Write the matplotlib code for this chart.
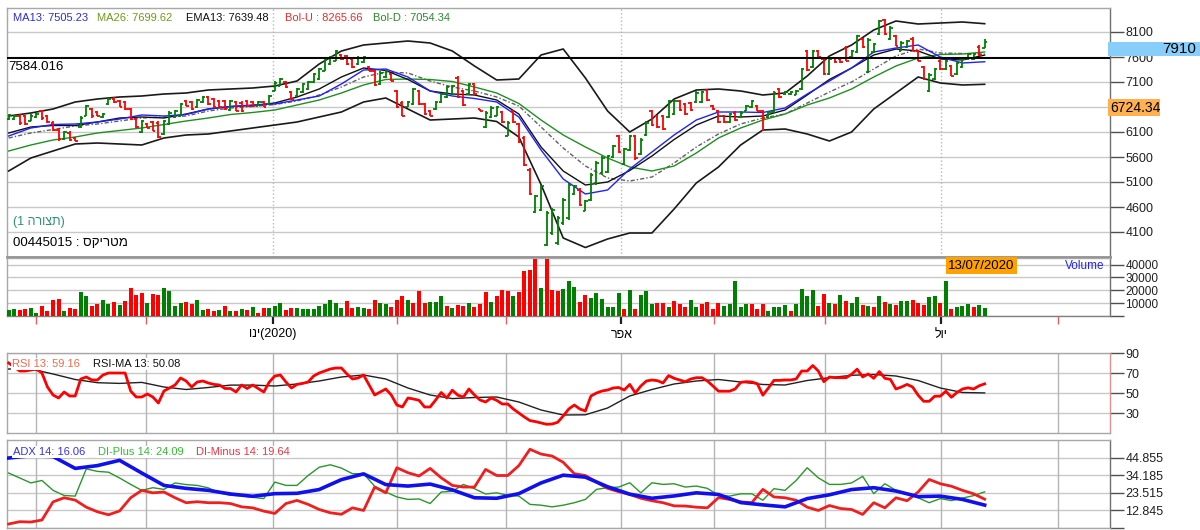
import matplotlib
matplotlib.use('Agg')
import matplotlib.pyplot as plt
from matplotlib.patches import Rectangle
import numpy as np

plt.rcParams['font.family'] = ['Liberation Sans', 'DejaVu Sans']


def heb(s):
    # matplotlib lays glyphs out left to right, so Hebrew runs are flipped for display
    return s[::-1]


# ---------------- price bars (bar 0 .. bar 176 = 13/07/2020) ----------------
open_ = [6370, 6370, 6430, 6420, 6330, 6400, 6520, 6430, 6290, 6150,
         5970, 6090, 5980, 6200, 6430, 6560, 6500, 6400, 6660, 6770,
         6730, 6700, 6560, 6360, 6100, 6270, 6300, 6290, 6070, 6270,
         6400, 6430, 6730, 6700, 6600, 6700, 6800, 6760, 6730, 6730,
         6540, 6700, 6690, 6730, 6710, 6630, 6700, 6660, 6930, 7030,
         7100, 6900, 6830, 6900, 6960, 7100, 7170, 7330, 7460, 7530,
         7650, 7630, 7560, 7460, 7500, 7400, 7330, 7070, 7200, 7260,
         6930, 6690, 6610, 6670, 6930, 6660, 6530, 6560, 6700, 6800,
         6870, 7190, 6930, 6870, 7060, 6560, 6200, 6400, 6430, 6500,
         6030, 6520, 6260, 5990, 5350, 4500, 4540, 3850, 4080, 3880,
         4280, 4380, 4870, 4950, 4530, 4740, 5080, 5280, 5300, 5600,
         6020, 5470, 5740, 6020, 5670, 6040, 6520, 6420, 6420, 6400,
         6470, 6720, 6660, 6680, 6700, 6700, 6940, 6630, 6520, 6430,
         6300, 6490, 6400, 6530, 6600, 6630, 6530, 6400, 6500, 6960,
         6860, 6860, 6850, 6960, 7720, 7400, 7730, 7570, 7270, 7580,
         7570, 7790, 7600, 7700, 7960, 7300, 7700, 8060, 8340, 7970,
         8030, 7730, 7800, 7970, 7730, 7400, 6930, 7170, 7530, 7370,
         7430, 7270, 7400, 7560, 7560, 7810, 7790]
high = [6460, 6447, 6460, 6447, 6460, 6480, 6547, 6447, 6313, 6180,
        6127, 6113, 5993, 6413, 6647, 6580, 6513, 6480, 6780, 6793,
        6747, 6713, 6580, 6380, 6347, 6280, 6313, 6313, 6347, 6513,
        6547, 6680, 6747, 6713, 6767, 6813, 6813, 6780, 6747, 6747,
        6747, 6713, 6713, 6747, 6727, 6713, 6713, 6847, 7113, 7180,
        7113, 6913, 6980, 7080, 7113, 7280, 7380, 7580, 7613, 7747,
        7660, 7647, 7580, 7613, 7613, 7413, 7347, 7313, 7347, 7280,
        6947, 6713, 6713, 6980, 6947, 6680, 6547, 6713, 6880, 7013,
        7047, 7213, 6947, 7080, 7080, 6567, 6513, 6613, 6613, 6513,
        6313, 6547, 6280, 6013, 5380, 4847, 5047, 4513, 4580, 4413,
        4780, 5080, 5047, 4980, 4747, 5280, 5513, 5613, 5647, 5847,
        6047, 5780, 6047, 6047, 5980, 6313, 6547, 6447, 6447, 6747,
        6747, 6747, 6680, 6700, 6913, 6927, 6967, 6647, 6547, 6447,
        6480, 6513, 6513, 6647, 6747, 6647, 6547, 6513, 6913, 6980,
        6927, 6927, 6947, 7380, 7747, 7747, 7747, 7593, 7580, 7593,
        7580, 7813, 7747, 8047, 7980, 7980, 7880, 8347, 8367, 8213,
        8047, 7913, 7947, 7993, 7747, 7413, 7280, 7380, 7547, 7547,
        7447, 7513, 7580, 7680, 7680, 7833, 7960]
low = [6347, 6347, 6247, 6247, 6313, 6380, 6347, 6280, 6113, 5927,
       5947, 5927, 5913, 6180, 6413, 6380, 6413, 6380, 6647, 6680,
       6593, 6547, 6347, 6180, 6080, 6180, 6113, 5980, 6047, 6247,
       6380, 6413, 6613, 6547, 6580, 6680, 6647, 6580, 6580, 6547,
       6513, 6513, 6500, 6613, 6613, 6613, 6593, 6647, 6913, 7013,
       6980, 6747, 6813, 6880, 6947, 7080, 7147, 7313, 7447, 7513,
       7547, 7447, 7380, 7447, 7480, 7313, 7013, 7047, 7180, 7113,
       6580, 6413, 6593, 6647, 6647, 6447, 6413, 6547, 6680, 6780,
       6847, 6780, 6613, 6847, 6847, 6513, 6180, 6380, 6413, 6280,
       6013, 6280, 5880, 5413, 4847, 4480, 4513, 3813, 4047, 3847,
       4247, 4347, 4847, 4613, 4513, 4713, 5047, 5247, 5280, 5580,
       5680, 5447, 5713, 5547, 5647, 6013, 6213, 6180, 6147, 6380,
       6447, 6513, 6447, 6513, 6680, 6680, 6713, 6547, 6280, 6280,
       6280, 6313, 6380, 6513, 6580, 6513, 6113, 6380, 6480, 6780,
       6847, 6847, 6833, 6947, 7313, 7380, 7580, 7247, 7247, 7480,
       7480, 7513, 7580, 7680, 7780, 7280, 7680, 8047, 8033, 7947,
       7813, 7713, 7780, 7713, 7513, 7147, 6900, 7147, 7347, 7347,
       7213, 7247, 7380, 7547, 7547, 7613, 7780]
close = [6440, 6430, 6280, 6270, 6430, 6460, 6380, 6300, 6140, 5960,
         6100, 5950, 5930, 6390, 6620, 6420, 6430, 6460, 6760, 6700,
         6610, 6570, 6370, 6200, 6320, 6190, 6130, 6000, 6320, 6490,
         6530, 6660, 6630, 6570, 6750, 6800, 6670, 6600, 6600, 6570,
         6730, 6530, 6520, 6630, 6630, 6700, 6610, 6830, 7090, 7160,
         7000, 6770, 6960, 7060, 7100, 7260, 7360, 7560, 7600, 7720,
         7560, 7470, 7400, 7590, 7600, 7330, 7040, 7290, 7330, 7130,
         6600, 6430, 6700, 6960, 6670, 6470, 6430, 6700, 6860, 7000,
         7030, 6800, 6640, 7060, 6870, 6520, 6490, 6590, 6600, 6300,
         6290, 6300, 5900, 5440, 4870, 4820, 5020, 4480, 4550, 4380,
         4750, 5050, 5020, 4640, 4720, 5250, 5480, 5590, 5620, 5820,
         5700, 5760, 6020, 5580, 5950, 6290, 6240, 6200, 6170, 6720,
         6720, 6540, 6470, 6540, 6890, 6900, 6740, 6570, 6300, 6300,
         6460, 6340, 6490, 6630, 6730, 6530, 6380, 6500, 6890, 6800,
         6910, 6910, 6930, 7360, 7340, 7720, 7600, 7270, 7560, 7500,
         7500, 7530, 7730, 8020, 7800, 7950, 7860, 8320, 8060, 8190,
         7830, 7890, 7930, 7730, 7530, 7170, 7250, 7360, 7370, 7530,
         7230, 7490, 7560, 7660, 7660, 7640, 7910]

volume = [4900, 5600, 4900, 5600, 6400, 2600, 7900, 4100, 12600, 13300,
          4100, 6400, 5600, 18700, 15600, 7900, 9500, 12600, 9500, 11000,
          8700, 11800, 21800, 16400, 17900, 10300, 17200, 16400, 21800, 19500,
          7900, 10300, 11000, 9500, 12600, 4900, 5600, 4100, 4900, 7900,
          4100, 4100, 5600, 4900, 7200, 2600, 6400, 6400, 7900, 10300,
          4900, 6400, 6400, 5600, 5600, 5600, 7900, 9500, 12600, 10300,
          6400, 11800, 6400, 7200, 6400, 5600, 12600, 10300, 9500, 7200,
          12600, 15600, 12600, 10300, 19500, 10300, 11000, 11000, 15600, 7900,
          6400, 8700, 7900, 10300, 7200, 9500, 18700, 11000, 15600, 20300,
          19500, 15600, 18700, 34900, 35600, 44600, 21800, 44100, 20300, 19500,
          21000, 27200, 22600, 11000, 16400, 14100, 17900, 13600, 6700, 6700,
          17900, 5600, 20500, 5600, 16400, 19500, 9700, 10300, 10300, 6700,
          11800, 9500, 7200, 12600, 6700, 9700, 11000, 5600, 10300, 7900,
          9700, 27200, 7200, 9500, 9500, 5600, 9500, 4100, 6700, 6700,
          8700, 4100, 9500, 21000, 15600, 20300, 7900, 17200, 10300, 9500,
          16400, 11800, 10300, 14900, 8700, 7900, 7200, 15600, 11000, 9500,
          8700, 11800, 11800, 12600, 10300, 8700, 14900, 15600, 10300, 27200,
          5600, 7200, 7900, 9500, 7200, 8700, 6400]
# g = up day, r = down day, as coloured in the volume pane
vol_dir = ("ggrrggrrrr" "grrggrrggr" "grrrrgrrgg" "ggrrggrrgr" "grgrgrrggg"
           "rrgggggggg" "grrggrrggr" "rrgrrrgggr" "grrgrrrgrr" "rgrrrrgrrr"
           "gggrrgg"
           "ggggrgrggg" "rrgrrrggrr" "rrgggggrrr" "ggggrggggr" "rgrgrggrgr"
           "grgrggrrrg" "grgrgggrgg")

# ---------------- overlays, one value every 4th bar ----------------
bol_up = [6420, 6480, 6560, 6700, 6760, 6800, 6820, 6860, 6880, 6940,
          6960, 6980, 7020, 7120, 7460, 7720, 7840, 7880, 7920, 7880,
          7720, 7420, 7140, 7160, 7640, 7760, 7180, 6520, 6100, 6360,
          6760, 6940, 6960, 6920, 6840, 6880, 7220, 7620, 7840, 8140,
          8320, 8260, 8280, 8300, 8266]
bol_dn = [5320, 5580, 5720, 5860, 5880, 5860, 5840, 5980, 6040, 6060,
          6120, 6180, 6240, 6300, 6400, 6500, 6700, 6780, 6560, 6340,
          6360, 6380, 6310, 6000, 5050, 3980, 3790, 3960, 4080, 4080,
          4560, 5080, 5400, 5840, 6140, 6160, 6060, 5920, 6100, 6560,
          6880, 7200, 7080, 7040, 7054]
ma13 = [6020, 6180, 6250, 6260, 6300, 6360, 6440, 6420, 6450, 6560,
        6610, 6640, 6660, 6740, 6820, 7060, 7340, 7360, 7200, 6920,
        6820, 6770, 6700, 6400, 5740, 5160, 4860, 4940, 5360, 5700,
        6040, 6340, 6500, 6500, 6490, 6580, 6860, 7120, 7380, 7700,
        7780, 7840, 7600, 7480, 7505]
ma26 = [5720, 5840, 5940, 6000, 6080, 6130, 6180, 6250, 6320, 6380,
        6450, 6490, 6540, 6640, 6740, 6880, 7040, 7150, 7160, 7150,
        7110, 7000, 6880, 6670, 6340, 6040, 5800, 5580, 5400, 5320,
        5420, 5680, 5980, 6180, 6340, 6460, 6640, 6780, 6960, 7200,
        7420, 7580, 7650, 7660, 7700]
ema13 = [6080, 6200, 6230, 6230, 6300, 6380, 6400, 6380, 6460, 6560,
         6610, 6630, 6680, 6800, 6960, 7200, 7380, 7330, 7150, 6920,
         6860, 6840, 6740, 6460, 5800, 5320, 5040, 5100, 5330, 5620,
         5950, 6240, 6420, 6400, 6420, 6540, 6840, 7150, 7380, 7640,
         7760, 7720, 7560, 7540, 7639]
bol_mid = [5980, 6080, 6150, 6220, 6260, 6320, 6380, 6400, 6420, 6520,
           6580, 6610, 6650, 6720, 6840, 7000, 7200, 7300, 7280, 7120,
           7000, 6920, 6800, 6620, 6200, 5780, 5420, 5180, 5120, 5200,
           5480, 5800, 6060, 6260, 6380, 6460, 6680, 6900, 7100, 7360,
           7620, 7760, 7680, 7670, 7660]

# ---------------- RSI (every bar) and its MA (every 4th bar) ----------------
rsi = [80, 76, 72, 72, 73, 74, 70, 56, 48, 45,
       51, 47, 47, 64, 66, 63, 63, 68, 70, 70,
       70, 70, 52, 46, 46, 49, 46, 40, 52, 55,
       58, 65, 62, 56, 61, 62, 60, 58.6, 58, 54.5,
       54.5, 51, 58, 54.5, 58, 54.5, 51, 61, 67, 68,
       61, 55, 58.6, 59.6, 61, 67, 70, 72, 74, 75,
       75, 69, 64, 65, 68, 58, 48, 51, 54, 48,
       38, 36, 45, 44, 42.7, 36, 36, 43, 50.5, 45,
       52.8, 47.8, 46, 54, 48, 43, 41, 45, 42.7, 39,
       39, 34, 30, 26, 22.4, 21.4, 20, 18.7, 19, 20.7,
       27, 34, 38, 34, 32, 47, 50, 52, 53, 55,
       55.5, 53, 58.6, 50, 57, 62, 63, 62.3, 60, 67.4,
       64.7, 63, 61.3, 64, 65.3, 65.3, 62, 57, 51.8, 51.8,
       51.8, 54, 60.6, 61.3, 61, 59.3, 47.8, 55, 62.6, 62.6,
       63, 63, 64, 72, 72, 77.5, 72, 61.3, 66, 65.3,
       65.3, 65.3, 68.7, 73.8, 66, 69, 64.7, 71.4, 64.7, 63.6,
       54, 56, 58.6, 56, 47.8, 41.7, 41.7, 46.8, 46.8, 51.8,
       45.7, 50.5, 54, 55.2, 54, 57.2, 59.16]
rsi_ma = [74, 74, 69, 63.5, 60.3, 59.6, 60.6, 56, 53.5, 55.5,
          57.9, 57.9, 57, 59, 62, 66, 68, 64, 55, 48,
          44.4, 45.5, 46, 41, 33, 28, 28.2, 35, 47, 53.5,
          59, 62, 63.5, 61, 58.5, 58, 62.5, 65.3, 67.7, 68.5,
          67, 62.5, 55, 50.5, 50.08]

# ---------------- ADX (every 4th bar), DI+/DI- (every 2nd bar) ----------------
adx = [44.6, 46, 45.5, 38.3, 40, 43.2, 35.5, 28, 26.2, 25,
       22.8, 21.4, 23, 23.2, 25.5, 31.5, 35, 28.5, 27.6, 28.8,
       25.3, 20.5, 20.2, 23, 29.5, 34.2, 33, 27.2, 22.7, 20.2,
       21.6, 23.5, 22.5, 17.6, 16.2, 15, 20, 22.3, 25.5, 26.6,
       24.6, 21.2, 21.5, 19.5, 16.06]
di_plus = [35.5, 32.5, 29.5, 31, 25, 21.9, 21.5, 38, 36.5, 36,
           32.5, 28.6, 25, 26.6, 25.6, 29.5, 28.5, 28, 26.5, 23.5,
           22, 21.7, 20.8, 20, 30, 28, 28, 34, 39, 40.5,
           38.5, 35.1, 35.1, 27.5, 24, 21, 19.5, 19.8, 17, 24,
           24.4, 28.6, 26, 22.8, 23.5, 22, 21.5, 16.5, 16, 15,
           16, 17.5, 19.5, 25.6, 26.6, 27, 29.6, 23.5, 29.6, 28.6,
           29, 27, 27.6, 26.2, 22, 21.5, 22.9, 22.9, 19, 26,
           25, 31, 38.7, 32.6, 28.6, 28.6, 29.5, 33.5, 23, 29,
           25, 22.9, 20.5, 17.5, 20, 18.8, 20.3, 21.8, 24.09]
di_minus = [4.6, 6, 5.8, 7, 18, 20.5, 19.1, 14.8, 12, 10.2,
            12.5, 20.5, 25, 23.5, 24, 20.5, 17.5, 18.1, 17.5, 17.5,
            17, 15, 14.4, 12.4, 11, 17, 18.9, 16.5, 13.4, 11.4,
            10.5, 14.4, 12.8, 27, 23.5, 38.7, 35.7, 33.7, 38.3, 32.6,
            28, 27, 27, 37.7, 34, 34, 40, 49.9, 47, 45.8,
            42, 35.1, 34, 30, 26.2, 24.2, 22.5, 20.2, 18.7, 17.5,
            15.6, 15.5, 14.8, 14.4, 20.6, 19.5, 18, 17.5, 25.6, 21,
            20.5, 19, 14.8, 12.8, 15.8, 14, 13.4, 10.4, 17.5, 14.4,
            20.5, 18.7, 24, 31.6, 29, 27.5, 25, 22.9, 19.64]

# month boundaries in bar units (Nov 2019 .. Aug 2020), quarters are labelled
month_ticks = [4.9, 24.7, 47.7, 70.1, 89.7, 110.5, 127.2, 147.2, 168.1, 189.2]
quarter_ticks = [47.7, 110.5, 168.1]
quarter_labels = [heb('ינו') + '(2020)', heb('אפר'), heb('יול')]

GREEN = '#008000'
RED = '#ff0000'

W, H = 1200, 530
fig = plt.figure(figsize=(W / 100, H / 100), dpi=100)


def pane(top, bottom):
    return fig.add_axes([7 / W, 1 - bottom / H, (1110 - 7) / W, (bottom - top) / H])


def fxy(x, y):
    return x / W, 1 - y / H


ax_p = pane(8, 257)
ax_v = pane(258, 316)
ax_r = pane(353, 433)
ax_a = pane(440, 528)

for ax in (ax_p, ax_v, ax_r, ax_a):
    ax.set_xlim(-0.3, 198.6)
    ax.yaxis.tick_right()
    ax.tick_params(axis='y', direction='out', length=10, width=1, color='#505050',
                   labelsize=9, pad=1, labelcolor='#202020')
    ax.tick_params(axis='x', length=0, labelbottom=False)
    ax.grid(axis='y', color='#c8c8c8', lw=1)
    ax.set_axisbelow(True)
    for s in ax.spines.values():
        s.set_color('#a8a8a8')
        s.set_linewidth(1)
    ax.spines['right'].set_color('#707070')

n = len(close)
x = np.arange(n)
xs4 = np.arange(0, n, 4)
xs2 = np.arange(0, n, 2)

# ---- price pane
o, hi, lo, c = map(np.array, (open_, high, low, close))
bar_col = np.where(c >= o, GREEN, RED)
ax_p.vlines(x, lo, hi, colors=bar_col, lw=1.3, zorder=4)
ax_p.hlines(o, x - 0.45, x, colors=bar_col, lw=1.3, zorder=4)
ax_p.hlines(c, x, x + 0.45, colors=bar_col, lw=1.3, zorder=4)

ax_p.plot(xs4, bol_up, color='#1a1a1a', lw=1.2, zorder=3)
ax_p.plot(xs4, bol_dn, color='#1a1a1a', lw=1.2, zorder=3)
ax_p.plot(xs4, bol_mid, color='#606060', lw=1, ls=(0, (3, 1.5, 1, 1.5)), zorder=3)
ax_p.plot(xs4, ma26, color='#1f8f1f', lw=1, zorder=3)
ax_p.plot(xs4, ema13, color='#101010', lw=1, zorder=3)
ax_p.plot(xs4, ma13, color='#2020ff', lw=1, zorder=3)
ax_p.axhline(7584.016, color='black', lw=1.4, zorder=5)
for q in quarter_ticks:
    ax_p.axvline(q, color='#b8b8b8', lw=1, ls=':', zorder=1)

ax_p.set_ylim(3600, 8580)
ax_p.set_yticks([4100, 4600, 5100, 5600, 6100, 6600, 7100, 7600, 8100])
# the 6600 label sits under the cursor tag in the original
ax_p.set_yticklabels(['4100', '4600', '5100', '5600', '6100', '', '7100', '7600', '8100'])
ax_p.spines['bottom'].set_color('#909090')
ax_p.spines['bottom'].set_linewidth(2)

# ---- volume pane
vol_col = [GREEN if d == 'g' else RED for d in vol_dir]
ax_v.bar(x, volume, width=0.72, color=vol_col, zorder=3)
ax_v.set_ylim(0, 45100)
ax_v.set_yticks([0, 10000, 20000, 30000, 40000])
ax_v.set_yticklabels(['', '10000', '20000', '30000', '40000'], fontsize=8.5)
ax_v.set_xticks(quarter_ticks)
ax_v.set_xticklabels(quarter_labels, fontsize=9)
ax_v.set_xticks([m for m in month_ticks if m not in quarter_ticks], minor=True)
ax_v.tick_params(axis='x', which='major', length=6, width=1.6, color='#202020',
                 labelbottom=True, pad=3)
ax_v.tick_params(axis='x', which='minor', length=6, width=1, color='#e06060')
ax_v.spines['bottom'].set_color('#808080')

# ---- RSI pane
for m in month_ticks:
    ax_r.axvline(m, color='#b4b4b4', lw=1, zorder=1)
ax_r.plot(xs4, rsi_ma, color='#202020', lw=1, zorder=3)
ax_r.plot(x, rsi, color=RED, lw=2, zorder=4)
ax_r.set_ylim(10, 90)
ax_r.set_yticks([30, 50, 70, 90])
ax_r.spines['right'].set_color('#e09090')

# ---- ADX pane
for m in month_ticks:
    ax_a.axvline(m, color='#b4b4b4', lw=1, zorder=1)
ax_a.plot(xs2, di_plus, color='#2a962a', lw=1, zorder=3)
ax_a.plot(xs2, di_minus, color='#f01e1e', lw=2, zorder=4)
ax_a.plot(xs4, adx, color='#1010ee', lw=2.6, zorder=5)
ax_a.set_ylim(2.175, 55.525)
ax_a.set_yticks([2.175, 12.845, 23.515, 34.185, 44.855])
ax_a.set_yticklabels(['', '12.845', '23.515', '34.185', '44.855'])

# ---- legends and captions
wbox = dict(facecolor='white', edgecolor='none', pad=1)
legend_p = [(13, 'MA13: 7505.23', '#2d2dd8'), (97, 'MA26: 7699.62', '#6f9a18'),
            (186, 'EMA13: 7639.48', '#111111'), (285, 'Bol-U : 8265.66', '#ee2a2a'),
            (373, 'Bol-D : 7054.34', '#2a8a2a')]
for px, s, col in legend_p:
    fig.text(*fxy(px, 18), s, color=col, fontsize=8, va='center', ha='left')

fig.text(*fxy(8, 67), '7584.016', fontsize=9.5, va='center', ha='left')
fig.text(*fxy(13, 222), '(1 ' + heb('תצורה') + ')', color='#2f8f7a', fontsize=9,
         va='center', ha='left')
fig.text(*fxy(13, 243), '00445015 : ' + heb('מטריקס'), fontsize=9.5,
         va='center', ha='left')

fig.text(*fxy(12, 364), 'RSI 13: 59.16', color='#f2684a', fontsize=8,
         va='center', ha='left', bbox=wbox, zorder=10)
fig.text(*fxy(93, 364), 'RSI-MA 13: 50.08', color='#111111', fontsize=8,
         va='center', ha='left', bbox=wbox, zorder=10)

fig.text(*fxy(13, 452), 'ADX 14: 16.06', color='#3535e0', fontsize=8,
         va='center', ha='left', bbox=wbox, zorder=10)
fig.text(*fxy(98, 452), 'DI-Plus 14: 24.09', color='#33bb33', fontsize=8,
         va='center', ha='left', bbox=wbox, zorder=10)
fig.text(*fxy(196, 452), 'DI-Minus 14: 19.64', color='#ee3344', fontsize=8,
         va='center', ha='left', bbox=wbox, zorder=10)

fig.text(*fxy(1065, 266), 'Volume', color='#2020ff', fontsize=8.5, va='center', ha='left')

# date tag in the volume pane
x0, y0 = fxy(946, 274)
fig.add_artist(Rectangle((x0, y0), 71 / W, 17 / H, transform=fig.transFigure,
                         facecolor='#ffa200', edgecolor='none', zorder=8))
fig.text(*fxy(981, 265.5), '13/07/2020', fontsize=9.5, va='center', ha='center', zorder=9)

# last-price and cursor tags on the price scale
x0, y0 = fxy(1108, 56)
fig.add_artist(Rectangle((x0, y0), 92 / W, 14 / H, transform=fig.transFigure,
                         facecolor='#87cefa', edgecolor='none', zorder=8))
fig.text(*fxy(1196, 49), '7910', fontsize=11, va='center', ha='right', zorder=9)

x0, y0 = fxy(1108, 116)
fig.add_artist(Rectangle((x0, y0), 52 / W, 17 / H, transform=fig.transFigure,
                         facecolor='#ffb04f', edgecolor='none', zorder=8))
fig.text(*fxy(1110, 107.5), '6724.34', fontsize=10, va='center', ha='left', zorder=9)

fig.savefig('out.png', dpi=100, facecolor='white')
